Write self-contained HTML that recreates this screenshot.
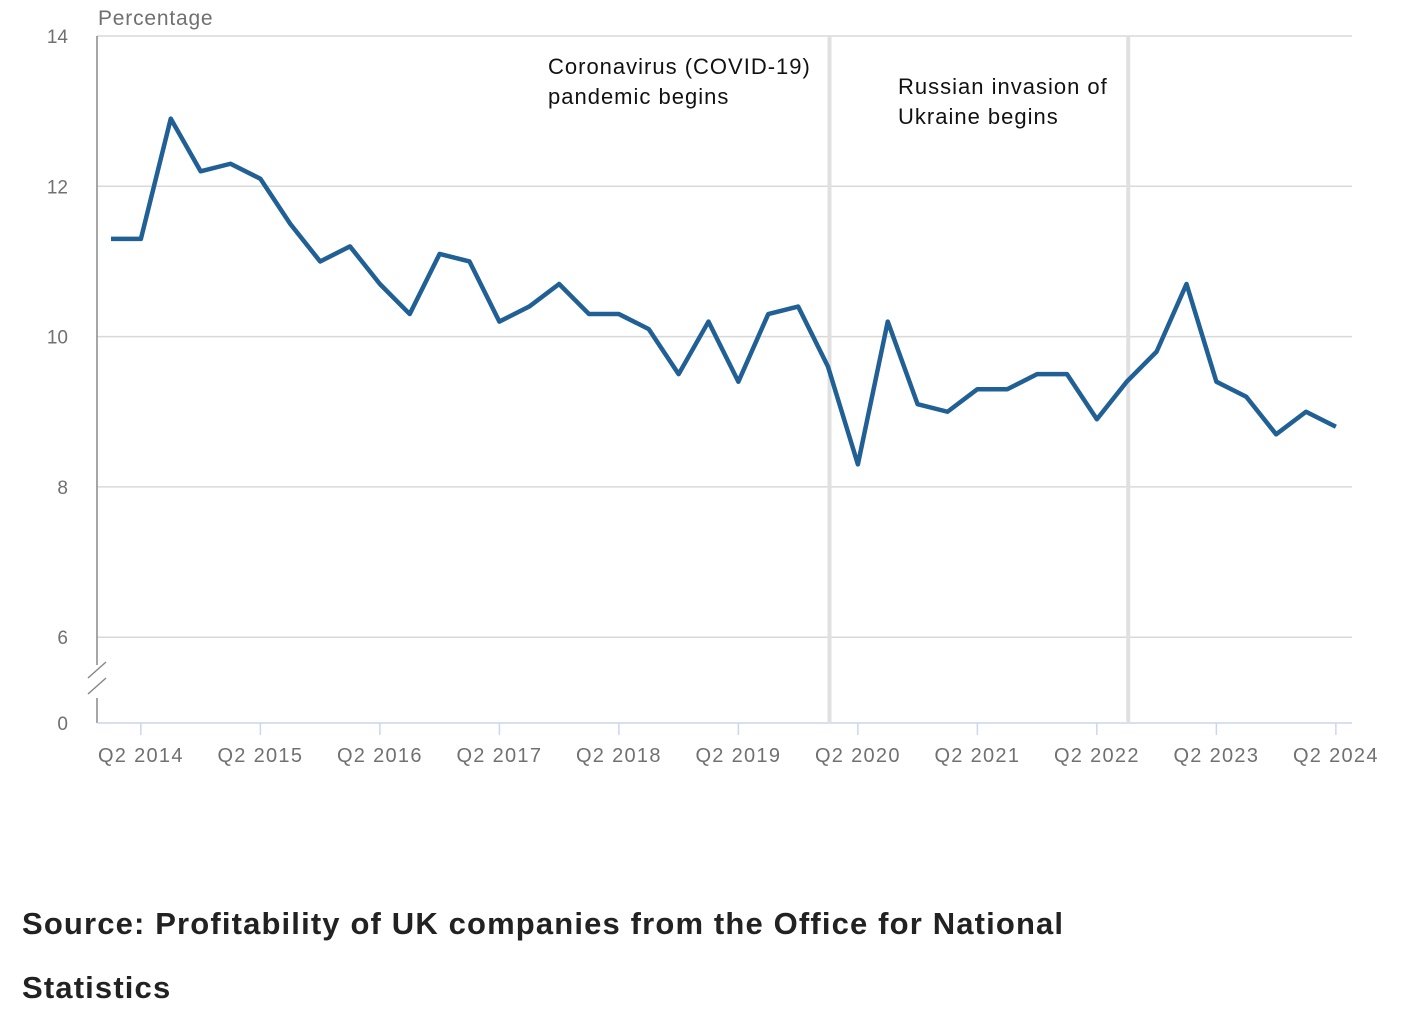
<!DOCTYPE html>
<html><head><meta charset="utf-8"><style>
body{margin:0;background:#fff;width:1418px;height:1026px;overflow:hidden;font-family:"Liberation Sans",sans-serif}
.src{position:absolute;left:22px;font-weight:bold;font-size:31px;color:#222;letter-spacing:1.15px}
</style></head><body>
<svg id="chart" width="1418" height="860" style="position:absolute;left:0;top:0" font-family="Liberation Sans, sans-serif"></svg>
<div class="src" style="top:906px">Source: Profitability of UK companies from the Office for National</div>
<div class="src" style="top:970px">Statistics</div>
<script>
const values=[11.3,11.3,12.9,12.2,12.3,12.1,11.5,11.0,11.2,10.7,10.3,11.1,11.0,10.2,10.4,10.7,10.3,10.3,10.1,9.5,10.2,9.4,10.3,10.4,9.6,8.3,10.2,9.1,9.0,9.3,9.3,9.5,9.5,8.9,9.4,9.8,10.7,9.4,9.2,8.7,9.0,8.8];
const yTicks=[6,8,10,12,14];
const xLabels=["Q2 2014","Q2 2015","Q2 2016","Q2 2017","Q2 2018","Q2 2019","Q2 2020","Q2 2021","Q2 2022","Q2 2023","Q2 2024"];
const xLabelIdx=[1,5,9,13,17,21,25,29,33,37,41];
const eventIdx=[24.05,34.05];
const eventText=[["Coronavirus (COVID-19)","pandemic begins"],["Russian invasion of","Ukraine begins"]];
const NS="http://www.w3.org/2000/svg",svg=document.getElementById('chart');
const x=i=>111+i*29.875, y=v=>36+(14-v)*75.15;
function mk(t,a,p){const e=document.createElementNS(NS,t);for(const k in a)e.setAttribute(k,a[k]);(p||svg).appendChild(e);return e;}
yTicks.forEach(v=>{
 const g=mk('line',{x1:97,x2:1352,y1:y(v),y2:y(v),stroke:'#d9d9d9','stroke-width':1.5});
 
 
 const t=mk('text',{x:68,y:y(v)+7,'text-anchor':'end','font-size':19,fill:'#707071'});t.textContent=v;
 
 
});
const z=mk('text',{x:68,y:730,'text-anchor':'end','font-size':19,fill:'#707071'});z.textContent='0';


const yt=mk('text',{x:98,y:25,'font-size':21,fill:'#707071','letter-spacing':0.8});yt.textContent='Percentage';


const ya=mk('path',{d:'M97 36V665M97 698V723',stroke:'#888',fill:'none','stroke-width':1.5});


const br=mk('path',{d:'M88 678L106 662M88 694L106 678',stroke:'#888','stroke-width':1.5});


const xa=mk('line',{x1:97,x2:1352,y1:723,y2:723,stroke:'#ccd6eb','stroke-width':1.5});


eventIdx.forEach((e,k)=>{
 const l=mk('line',{x1:x(e),x2:x(e),y1:36,y2:723,stroke:'#e0e0e0','stroke-width':4});
 
 
 const tx=k==0?548:898, ty=k==0?74:94;
 eventText[k].forEach((s,j)=>{const t=mk('text',{x:tx,y:ty+j*30,'font-size':22,fill:'#111','letter-spacing':1});t.textContent=s;
  
  });
});
xLabelIdx.forEach((i,k)=>{
 const tk=mk('line',{x1:x(i),x2:x(i),y1:723,y2:735,stroke:'#ccd6eb','stroke-width':1.5});
 
 
 const t=mk('text',{x:x(i),y:762,'text-anchor':'middle','font-size':20,fill:'#707071','letter-spacing':1.3});t.textContent=xLabels[k];
 
 
});
const p=mk('path',{d:values.map((v,i)=>(i?'L':'M')+x(i)+' '+y(v)).join(''),fill:'none',stroke:'#206095','stroke-width':4.5,'stroke-linejoin':'round'});


</script>
</body></html>
